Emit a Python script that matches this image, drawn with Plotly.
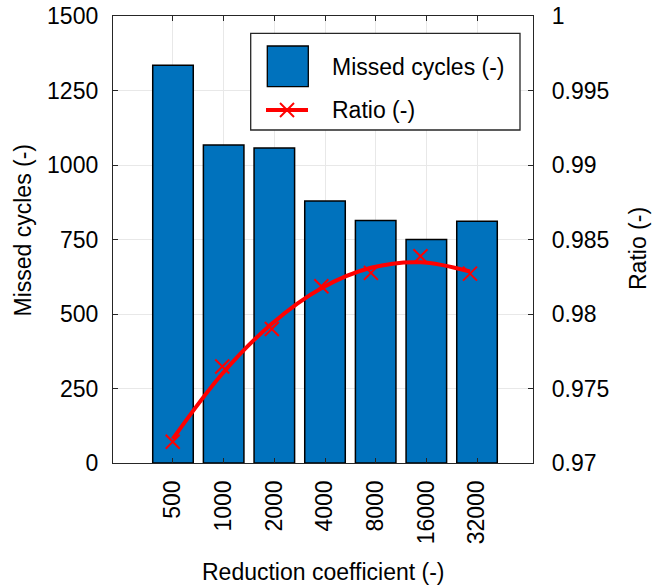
import plotly.graph_objects as go

categories = ["500", "1000", "2000", "4000", "8000", "16000", "32000"]
missed_cycles = [1335, 1067, 1057, 879, 814, 750, 811]
ratio_points = [0.97143, 0.97648, 0.97899, 0.98186, 0.98276, 0.98388, 0.98271]
ratio_fit = [0.97161, 0.97599, 0.97935, 0.98173, 0.98310, 0.98347, 0.98285]
y1_ticks = [0, 250, 500, 750, 1000, 1250, 1500]
y2_ticks = [0.97, 0.975, 0.98, 0.985, 0.99, 0.995, 1.0]

FONT = "Liberation Sans, Arial, sans-serif"
FS = 23
BLUE = "#0072BD"
RED = "#FF0000"
AX = "#262626"

L, R, T, B = 113, 127, 16, 122
W, H = 660, 585
PW, PH = W - L - R, H - T - B

def px(x):
    return (x - L) / PW

def py(y):
    return (H - B - y) / PH

idx = list(range(len(categories)))

fig = go.Figure()
fig.add_trace(go.Bar(
    x=categories, y=missed_cycles, width=0.8,
    marker=dict(color=BLUE, line=dict(color="#000000", width=1.5)),
    showlegend=False, xaxis="x", yaxis="y",
))
fig.add_trace(go.Scatter(
    x=idx, y=ratio_fit, mode="lines", line=dict(color=RED, width=4, shape="spline"),
    showlegend=False, xaxis="x2", yaxis="y2",
))
fig.add_trace(go.Scatter(
    x=idx, y=ratio_points, mode="markers",
    marker=dict(symbol="x-thin", size=14, line=dict(color=RED, width=2), color=RED),
    showlegend=False, xaxis="x2", yaxis="y2",
))

fig.update_layout(
    width=W, height=H,
    margin=dict(l=L, r=R, t=T, b=B, pad=0, autoexpand=False),
    paper_bgcolor="white", plot_bgcolor="white",
    font=dict(family=FONT, size=FS, color="#000000"),
    xaxis=dict(
        type="category", range=[-1.184, 7.105], automargin=False,
        tickangle=-90, ticks="inside", ticklen=5, tickcolor=AX,
        showline=True, linecolor=AX, linewidth=1.3, mirror="ticks",
        showgrid=True, gridcolor="#e8e8e8", gridwidth=1,
        ticklabelstandoff=7,
        tickfont=dict(size=FS, color="#000000"),
    ),
    xaxis2=dict(
        overlaying="x", anchor="y", type="linear", range=[-1.205, 7.271],
        visible=False, automargin=False,
    ),
    yaxis=dict(
        range=[0, 1500], tickvals=y1_ticks, ticks="inside", ticklen=5, tickcolor=AX,
        showline=True, linecolor=AX, linewidth=1.3, automargin=False,
        showgrid=True, gridcolor="#e8e8e8", gridwidth=1, zeroline=False,
        ticklabelstandoff=9,
        tickfont=dict(size=FS, color="#000000"),
    ),
    yaxis2=dict(
        overlaying="y", side="right", anchor="x", range=[0.97, 1.0],
        tickvals=y2_ticks, tickformat="~g", automargin=False,
        ticks="inside", ticklen=5, tickcolor=AX,
        showline=True, linecolor=AX, linewidth=1.3, showgrid=False, zeroline=False,
        ticklabelstandoff=13,
        tickfont=dict(size=FS, color="#000000"),
    ),
)

shapes = [
    dict(type="rect", xref="paper", yref="paper", x0=px(250.7), x1=px(520), y0=py(130), y1=py(33.3),
         fillcolor="white", line=dict(color=AX, width=1.3), layer="above"),
    dict(type="rect", xref="paper", yref="paper", x0=px(267.3), x1=px(308.3), y0=py(86.7), y1=py(46),
         fillcolor=BLUE, line=dict(color="#000000", width=1.3), layer="above"),
    dict(type="line", xref="paper", yref="paper", x0=px(266), x1=px(308), y0=py(110), y1=py(110),
         line=dict(color=RED, width=4), layer="above"),
    dict(type="line", xref="paper", yref="paper", x0=px(280), x1=px(294), y0=py(103), y1=py(117),
         line=dict(color=RED, width=2), layer="above"),
    dict(type="line", xref="paper", yref="paper", x0=px(280), x1=px(294), y0=py(117), y1=py(103),
         line=dict(color=RED, width=2), layer="above"),
]
fig.update_layout(shapes=shapes)

annotations = [
    dict(text="Missed cycles (-)", xref="paper", yref="paper", x=px(330), y=py(66.7),
         xanchor="left", yanchor="middle", showarrow=False, font=dict(size=FS)),
    dict(text="Ratio (-)", xref="paper", yref="paper", x=px(330), y=py(110),
         xanchor="left", yanchor="middle", showarrow=False, font=dict(size=FS)),
    dict(text="Reduction coefficient (-)", xref="paper", yref="paper", x=px(323), y=py(571.7),
         xanchor="center", yanchor="middle", showarrow=False, font=dict(size=FS)),
    dict(text="Missed cycles (-)", xref="paper", yref="paper", x=px(22.5), y=py(230),
         xanchor="center", yanchor="middle", textangle=-90, showarrow=False, font=dict(size=FS)),
    dict(text="Ratio (-)", xref="paper", yref="paper", x=px(638), y=py(249),
         xanchor="center", yanchor="middle", textangle=-90, showarrow=False, font=dict(size=FS)),
]
fig.update_layout(annotations=annotations)

fig.write_html("out.html")
